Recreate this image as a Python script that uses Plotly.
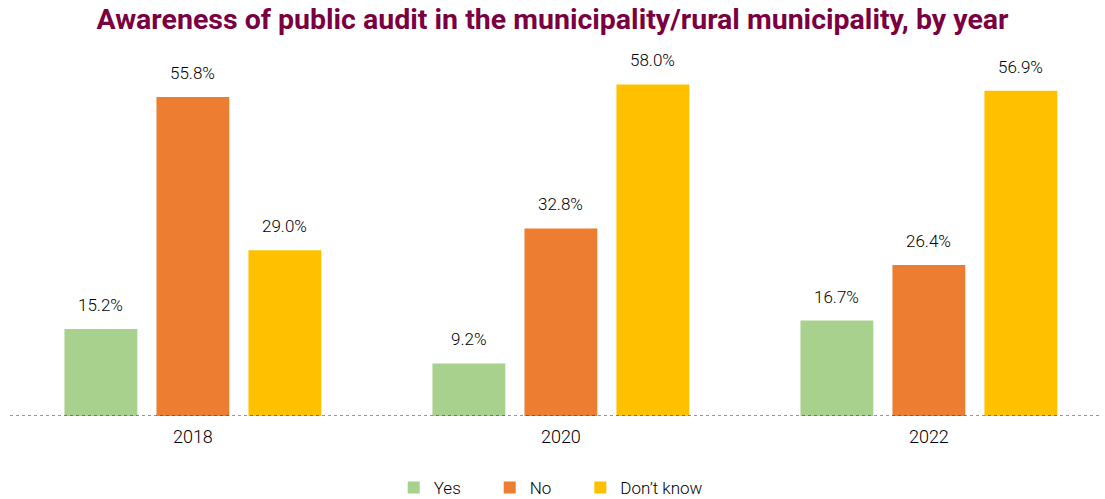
import plotly.graph_objects as go

# Survey results by year
years = ["2018", "2020", "2022"]
responses = ["Yes", "No", "Don\u2019t know"]
yes_pct = [15.2, 9.2, 16.7]
no_pct = [55.8, 32.8, 26.4]
dont_know_pct = [29.0, 58.0, 56.9]

colors = ["#A9D18E", "#ED7D31", "#FFC000"]
series = [yes_pct, no_pct, dont_know_pct]
legend_ids = ["legend", "legend", "legend2"]

# bars within a year group sit at fixed offsets on a numeric axis
slot = 0.25
bar_w = 0.198
idx = list(range(len(years)))

text_font = dict(family="Roboto", size=17, color="#000000", weight=300)

fig = go.Figure()
annotations = []
for k, (name, vals, col, lg) in enumerate(zip(responses, series, colors, legend_ids)):
    xs = [i + (k - 1) * slot for i in idx]
    fig.add_trace(go.Bar(
        x=xs, y=vals, name=name, width=bar_w, legend=lg,
        marker=dict(color=col, line=dict(width=0)),
        hoverinfo="y",
    ))
    for x, v in zip(xs, vals):
        annotations.append(dict(
            x=x, y=v, xref="x", yref="y", text=f"{v:.1f}%",
            showarrow=False, yanchor="bottom", yshift=12,
            font=text_font,
        ))

legend_common = dict(
    orientation="h", xanchor="left",
    xref="container", yref="container", y=0.022, yanchor="middle",
    font=text_font, itemwidth=30, bgcolor="rgba(0,0,0,0)",
)

fig.update_layout(
    width=1105, height=499,
    margin=dict(l=10, r=5, t=73, b=83, autoexpand=False),
    paper_bgcolor="white", plot_bgcolor="white",
    barmode="overlay",
    title=dict(
        text="<b>Awareness of public audit in the municipality/rural municipality, by year</b>",
        x=0.5, xanchor="center", y=0.962, yanchor="middle",
        font=dict(family="Roboto", size=28.5, color="#7B0041"),
    ),
    xaxis=dict(
        tickmode="array", tickvals=idx, ticktext=years,
        range=[-0.497, 2.465], showgrid=False, zeroline=False,
        showline=False, ticks="", ticklabelstandoff=8,
        tickfont=dict(family="Roboto", size=18, color="#000000", weight=300),
        fixedrange=True,
    ),
    yaxis=dict(range=[0, 60], visible=False, fixedrange=True),
    legend=dict(x=0.3563, entrywidth=51, **legend_common),
    legend2=dict(x=0.5252, **legend_common),
    annotations=annotations,
    shapes=[dict(
        type="line", xref="paper", yref="y", x0=0, x1=1, y0=0, y1=0,
        line=dict(color="#7B0041", width=1, dash="dot"), layer="above",
    )],
)

fig.write_html("out.html")
